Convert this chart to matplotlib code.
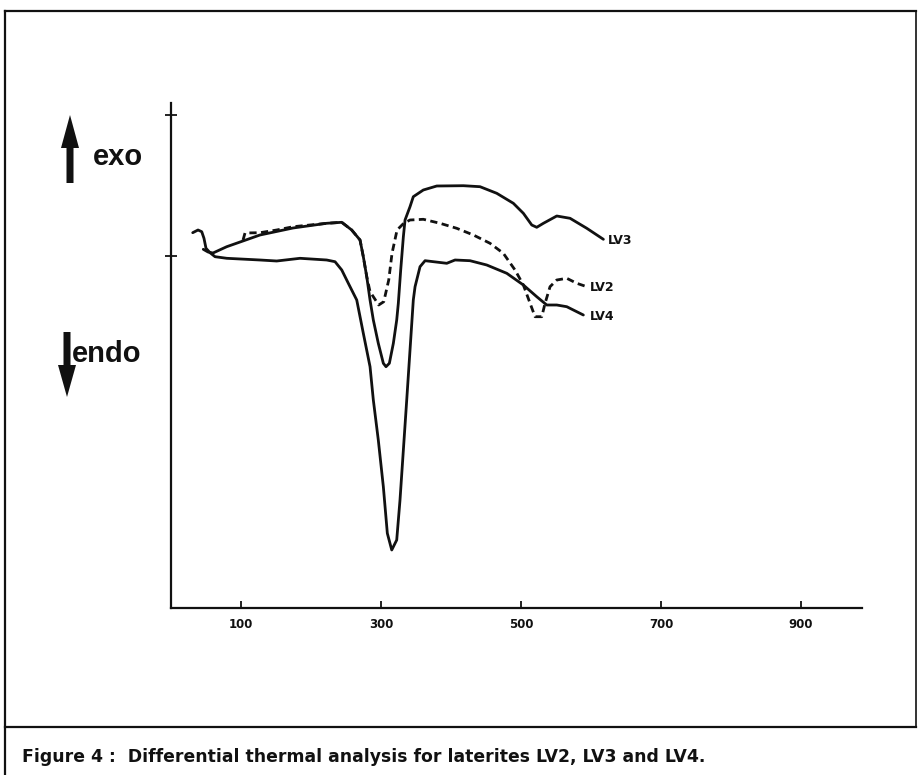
import matplotlib
matplotlib.use('Agg')
import matplotlib.pyplot as plt
from matplotlib.patches import FancyArrow

# DTA curves (temperature in deg C, signal in arbitrary units)
lv4_t = [31, 38.6, 43.9, 47.1, 50, 55.7, 62.9, 79.6, 127.1, 151, 184.3, 222.4, 234.3, 243.9,
         253.3, 265.3, 274.7, 284.3, 289, 296.1, 303.3, 309, 315.3, 322.4, 327.1, 331.9,
         336.7, 341.4, 346.1, 348.6, 355.7, 362.9, 393.9, 405.7, 427.1, 451, 479.6, 503.3,
         522.4, 536.7, 551, 565.3, 589]
lv4_s = [23.3, 26, 24.3, 17.7, 7.7, 3.3, -0.7, -2.3, -4, -5, -2.3, -4, -5.7, -14,
         -27.3, -44, -77.3, -110.7, -144, -184, -230.7, -277.3, -294, -284, -244, -194,
         -144, -94, -44, -30.7, -10.7, -4.7, -7.3, -4, -4.7, -9, -17.3, -29,
         -40.7, -49, -49, -50.7, -59]

lv3_t = [46.1, 52.9, 60, 79.6, 127.1, 174.3, 222.4, 243.9, 258.1, 270, 274.7, 279.6, 284.3,
         289, 296.1, 303.3, 307.1, 311.9, 317.6, 322.4, 324.7, 328.1, 331.9, 334.3, 341.4,
         346.1, 360.4, 379.6, 417.6, 441.4, 465.3, 489, 503.3, 515.3, 522.4, 531.9, 551,
         570, 593.9, 617.6]
lv3_s = [6.7, 4, 3, 9.3, 21, 28, 32.7, 33.7, 26, 16, -0.7, -20.7, -44,
         -64, -87.3, -107.3, -110.7, -107.3, -87.3, -64, -47.3, -14, 19.3, 36, 49.3,
         59.3, 66, 70, 70.3, 69.3, 62.7, 52.7, 42.7, 31, 28.7, 32.7, 40,
         37.7, 27.7, 16.7]

lv2_t = [102.9, 105.7, 127.1, 151, 174.7, 198.6, 222.4, 243.9, 258.1, 270, 274.7, 279.6,
         284.3, 296.7, 303.9, 311, 315.7, 322.9, 332.4, 341.4, 360.4, 384.3, 408.1, 431.9,
         455.7, 474.7, 491.4, 503.3, 512.9, 520, 529.6, 534.3, 541.4, 551, 565.3, 579.6, 593.9]
lv2_s = [16, 23, 23.3, 26, 29.3, 31, 32.7, 33.7, 26, 16, -0.7, -20.7,
         -35.7, -49, -45.7, -24, 2.7, 26, 32.7, 36, 36.7, 32.7, 27.7, 21,
         12.7, 2.7, -14, -29, -47.3, -60.7, -60.7, -47.3, -30.7, -24, -22.3, -27.3, -30.7]

x_ticks = [100, 300, 500, 700, 900]
y_ticks = [0, 141]

W, H = 918, 775
fig = plt.figure(figsize=(W / 100, H / 100), dpi=100)
fig.patch.set_facecolor('white')

# overlay in pixel units for frame, arrows and caption
ov = fig.add_axes([0, 0, 1, 1])
ov.set_xlim(0, W)
ov.set_ylim(H, 0)
ov.axis('off')

ink = '#111111'
ov.plot([5, 916], [11, 11], color=ink, lw=1.6)
ov.plot([5, 5], [11, H], color=ink, lw=1.6)
ov.plot([916, 916], [11, 727], color=ink, lw=1.2)
ov.plot([5, 916], [727, 727], color=ink, lw=1.6)

ov.add_patch(FancyArrow(70, 183, 0, -68, width=7, head_width=18, head_length=33,
                        length_includes_head=True, color=ink, lw=0))
ov.add_patch(FancyArrow(67, 332, 0, 65, width=7, head_width=18, head_length=32,
                        length_includes_head=True, color=ink, lw=0))
ov.text(93, 165, 'exo', fontsize=21, fontweight='bold', family='Liberation Sans',
        color=ink, va='baseline', ha='left')
ov.text(72, 362, 'endo', fontsize=21, fontweight='bold', family='Liberation Sans',
        color=ink, va='baseline', ha='left')
ov.text(22, 762, 'Figure 4 :  Differential thermal analysis for laterites LV2, LV3 and LV4.',
        fontsize=12.4, fontweight='bold', family='DejaVu Sans', color=ink,
        va='baseline', ha='left')

# main plot
ax = fig.add_axes([171 / W, (H - 608) / H, (862 - 171) / W, (608 - 103) / H])
ax.patch.set_alpha(0)
ax.plot(lv2_t, lv2_s, color=ink, lw=2.0, linestyle=(0, (2.6, 1.6)))
ax.plot(lv3_t, lv3_s, color=ink, lw=2.0, solid_joinstyle='round', solid_capstyle='round')
ax.plot(lv4_t, lv4_s, color=ink, lw=2.0, solid_joinstyle='round', solid_capstyle='round')

ax.text(lv3_t[-1] + 7, lv3_s[-1] - 1, 'LV3', fontsize=9, fontweight='bold', va='center', color=ink)
ax.text(lv2_t[-1] + 5, lv2_s[-1] - 1, 'LV2', fontsize=9, fontweight='bold', va='center', color=ink)
ax.text(lv4_t[-1] + 9, lv4_s[-1] - 1, 'LV4', fontsize=9, fontweight='bold', va='center', color=ink)

ax.set_xlim(0, 987)
ax.set_ylim(-352, 153)
for s in ['top', 'right']:
    ax.spines[s].set_visible(False)
for s in ['left', 'bottom']:
    ax.spines[s].set_linewidth(1.6)
    ax.spines[s].set_color(ink)

ax.set_xticks(x_ticks)
ax.set_xticklabels([str(t) for t in x_ticks], fontsize=8.5, fontweight='bold', color=ink)
ax.tick_params(axis='x', direction='in', length=5, width=1.3, pad=7, colors=ink)
ax.set_yticks(y_ticks)
ax.set_yticklabels([])
ax.tick_params(axis='y', direction='inout', length=9, width=1.3, colors=ink)

fig.savefig('out.png', dpi=100, facecolor='white')
